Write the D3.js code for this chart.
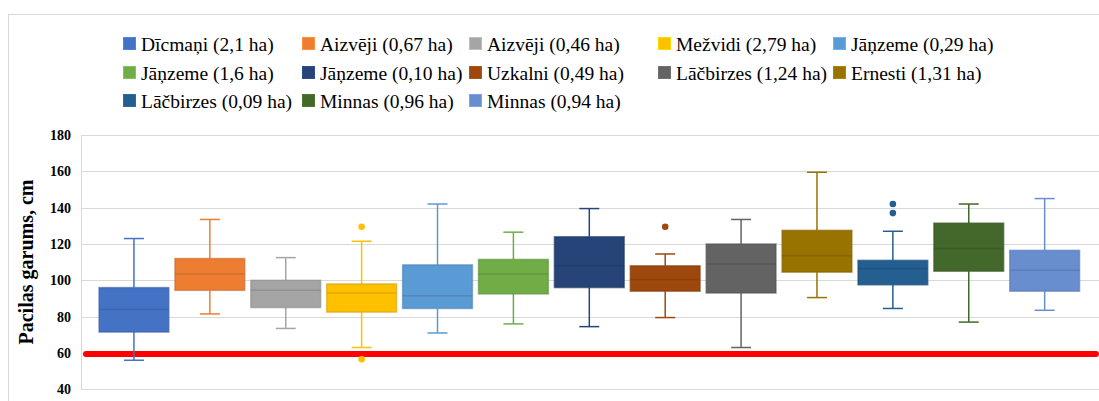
<!DOCTYPE html>
<html lang="lv">
<head>
<meta charset="UTF-8">
<title>Pacilas garums</title>
<script src="https://cdn.jsdelivr.net/npm/d3@7/dist/d3.min.js"></script>
<style>
  body { margin: 0; background: #fff; }
  text { font-family: "Liberation Serif", "Times New Roman", serif; }
</style>
</head>
<body>
<script>
// sērijas (stādījumi)
var names = ["Dīcmaņi (2,1 ha)", "Aizvēji (0,67 ha)", "Aizvēji (0,46 ha)", "Mežvidi (2,79 ha)", "Jāņzeme (0,29 ha)",
             "Jāņzeme (1,6 ha)", "Jāņzeme (0,10 ha)", "Uzkalni (0,49 ha)", "Lāčbirzes (1,24 ha)", "Ernesti (1,31 ha)",
             "Lāčbirzes (0,09 ha)", "Minnas (0,96 ha)", "Minnas (0,94 ha)"]
var colors = ["#4472C4", "#ED7D31", "#A5A5A5", "#FFC000", "#5B9BD5",
              "#70AD47", "#264478", "#9E480E", "#636363", "#997300",
              "#255E91", "#43682B", "#698ED0"]

// kastes vērtības, cm
var whiskLow  = [56, 81.5, 73.5, 63, 71, 76, 74.5, 79.5, 63, 90.5, 84.5, 77, 83.5]
var q1        = [71.5, 94.5, 85, 82.5, 84.5, 92.5, 96, 94, 93, 104.5, 97.5, 105, 94]
var medians   = [84, 103.5, 94.5, 93, 91.5, 103.5, 108, 100.5, 109, 113.5, 106.5, 117.5, 105.5]
var q3        = [96, 112, 100, 98, 108.5, 111.5, 124, 108, 120, 127.5, 111, 131.5, 116.5]
var whiskHigh = [123, 133.5, 112.5, 121.5, 142, 126.5, 139.5, 114.5, 133.5, 159.5, 127, 142, 145]
var outliers  = [[], [], [], [129.5, 56.5], [], [], [], [129.5], [], [], [137, 142], [], []]

var yTicks = [40, 60, 80, 100, 120, 140, 160, 180]
var threshold = 59.4   // sarkanā līnija
var yTitle = "Pacilas garums, cm"

var serif = "'Liberation Serif', 'Times New Roman', serif"
var W = 1099, H = 401
var svg = d3.select("body").append("svg")
    .attr("width", W)
    .attr("height", H)

// ārējais rāmis
svg.append("rect")
    .attr("x", 8.5).attr("y", 14.5)
    .attr("width", W + 20).attr("height", H + 20)
    .attr("fill", "none")
    .attr("stroke", "#D9D9D9")

var plotLeft = 81, plotRight = W
var y = d3.scaleLinear().domain([40, 180]).range([389.3, 135])
var x = d3.scaleBand().domain(names).range([96, 1082.6]).padding(0)
var boxW = x.bandwidth() * 0.92

// režģis
svg.append("g").selectAll("line")
    .data(yTicks)
    .join("line")
    .attr("x1", plotLeft).attr("x2", plotRight)
    .attr("y1", function(d) { return Math.round(y(d)) + 0.5 })
    .attr("y2", function(d) { return Math.round(y(d)) + 0.5 })
    .attr("stroke", "#D9D9D9")
    .attr("stroke-width", 1)

svg.append("line")
    .attr("x1", plotLeft + 0.5).attr("x2", plotLeft + 0.5)
    .attr("y1", y(180)).attr("y2", y(40))
    .attr("stroke", "#D9D9D9")

// y ass
var yAxis = d3.axisLeft(y).tickValues(yTicks).tickSize(0).tickPadding(10)
var ga = svg.append("g")
    .attr("transform", "translate(" + plotLeft + ",0)")
    .call(yAxis)
    .attr("font-family", serif)
ga.select(".domain").remove()
ga.selectAll("text")
    .style("font-family", serif)
    .attr("font-size", 14)
    .attr("font-weight", "bold")
    .attr("fill", "#000")

svg.append("text")
    .attr("transform", "translate(33," + 262 + ") rotate(-90)")
    .attr("text-anchor", "middle")
    .style("font-family", serif)
    .attr("font-size", 20)
    .attr("font-weight", "bold")
    .attr("fill", "#000")
    .text(yTitle)

// sarkanā līnija
svg.append("line")
    .attr("x1", 86).attr("x2", W - 3)
    .attr("y1", y(threshold)).attr("y2", y(threshold))
    .attr("stroke", "#FF0000")
    .attr("stroke-width", 6)
    .attr("stroke-linecap", "round")

// kastes
var boxes = svg.append("g").selectAll("g")
    .data(names)
    .join("g")

boxes.each(function(name, i) {
    var g = d3.select(this)
    var c = colors[i]
    var dark = d3.color(c).darker(0.5).formatHex()
    var cx = x(name) + x.bandwidth() / 2
    var capW = 20

    // ūsas
    g.append("line")
        .attr("x1", cx).attr("x2", cx)
        .attr("y1", y(whiskHigh[i])).attr("y2", y(q3[i]))
        .attr("stroke", c).attr("stroke-width", 1.5)
    g.append("line")
        .attr("x1", cx).attr("x2", cx)
        .attr("y1", y(q1[i])).attr("y2", y(whiskLow[i]))
        .attr("stroke", c).attr("stroke-width", 1.5)
    g.append("line")
        .attr("x1", cx - capW / 2).attr("x2", cx + capW / 2)
        .attr("y1", y(whiskHigh[i])).attr("y2", y(whiskHigh[i]))
        .attr("stroke", c).attr("stroke-width", 1.5)
    g.append("line")
        .attr("x1", cx - capW / 2).attr("x2", cx + capW / 2)
        .attr("y1", y(whiskLow[i])).attr("y2", y(whiskLow[i]))
        .attr("stroke", c).attr("stroke-width", 1.5)

    g.append("rect")
        .attr("x", cx - boxW / 2)
        .attr("y", y(q3[i]))
        .attr("width", boxW)
        .attr("height", y(q1[i]) - y(q3[i]))
        .attr("fill", c)
        .attr("stroke", dark)
        .attr("stroke-opacity", 0.6)
        .attr("stroke-width", 1.5)

    g.append("line")
        .attr("x1", cx - boxW / 2).attr("x2", cx + boxW / 2)
        .attr("y1", y(medians[i])).attr("y2", y(medians[i]))
        .attr("stroke", dark)
        .attr("stroke-opacity", 0.7)
        .attr("stroke-width", 1.5)

    g.selectAll("circle")
        .data(outliers[i])
        .join("circle")
        .attr("cx", cx)
        .attr("cy", function(d) { return y(d) })
        .attr("r", 3.3)
        .attr("fill", c)
})

// leģenda
var colX = [123, 302, 469, 658, 833]
var rowY = [44, 73, 101]
var legend = svg.append("g").selectAll("g")
    .data(names)
    .join("g")
    .attr("transform", function(d, i) {
        return "translate(" + colX[i % 5] + "," + rowY[Math.floor(i / 5)] + ")"
    })

legend.append("rect")
    .attr("x", 0.5).attr("y", -6.5)
    .attr("width", 12).attr("height", 12)
    .attr("fill", function(d, i) { return colors[i] })
    .attr("stroke", function(d, i) { return d3.color(colors[i]).brighter(0.4) })
    .attr("stroke-width", 1)

legend.append("text")
    .attr("x", 18)
    .attr("y", 0)
    .attr("dy", "0.35em")
    .style("font-family", serif)
    .attr("font-size", 19.5)
    .attr("fill", "#000")
    .text(function(d) { return d })
</script>
</body>
</html>
